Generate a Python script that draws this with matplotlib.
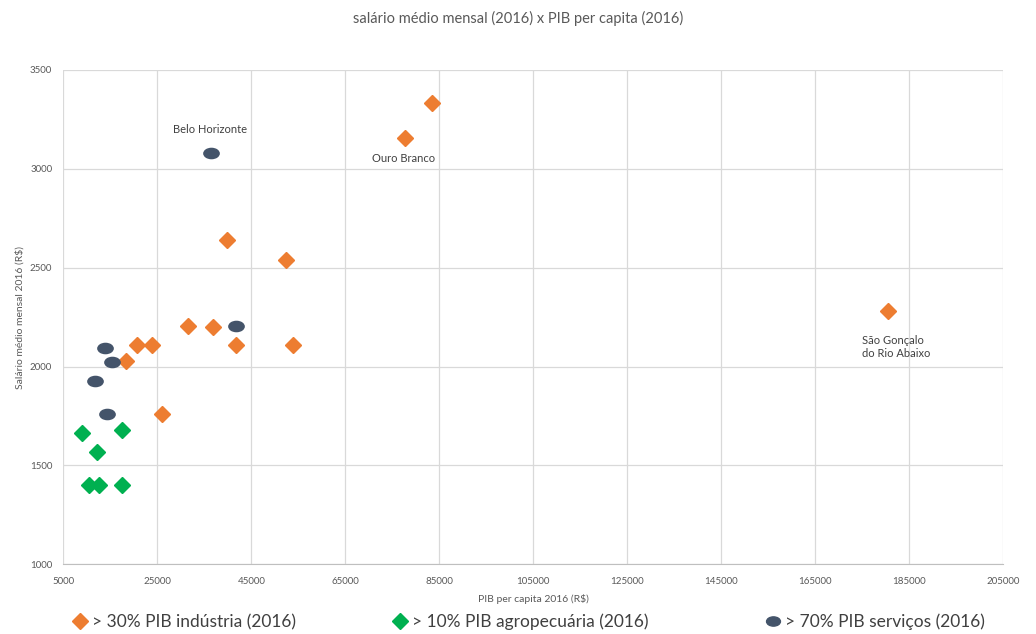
import numpy as np
import matplotlib
matplotlib.use("Agg")
import matplotlib.pyplot as plt
from matplotlib.path import Path
from matplotlib.lines import Line2D
from matplotlib.transforms import Affine2D

plt.rcParams['font.family'] = ['Lato', 'DejaVu Sans']

# dados
ind_pib = [83500, 77700, 39900, 52400, 180500, 31500, 36900, 41700, 53900,
           20600, 23900, 18300, 25900]
ind_sal = [3333, 3158, 2638, 2540, 2282, 2203, 2200, 2109, 2109,
           2110, 2110, 2026, 1760]

agro_pib = [9000, 17400, 12100, 10500, 12600, 17400]
agro_sal = [1666, 1679, 1568, 1400, 1400, 1400]

serv_pib = [36500, 41700, 13900, 15400, 11800, 14300]
serv_sal = [3079, 2206, 2095, 2022, 1926, 1758]

labels = ['> 30% PIB indústria (2016)', '> 10% PIB agropecuária (2016)',
          '> 70% PIB serviços (2016)']
colors = ['#ED7D31', '#00B050', '#44546A']

x_ticks = list(range(5000, 205001, 20000))
y_ticks = [1000, 1500, 2000, 2500, 3000, 3500]

# marcador eliptico
ellipse = Path.unit_circle().transformed(Affine2D().scale(1.5, 1.0))

fig = plt.figure(figsize=(10.36, 6.34), dpi=100)
ax = fig.add_axes([0.0611, 0.110, 0.9074, 0.7797])

ax.plot(ind_pib, ind_sal, linestyle='none', marker='D', ms=8.5,
        color=colors[0], mec=colors[0])
ax.plot(agro_pib, agro_sal, linestyle='none', marker='D', ms=8.5,
        color=colors[1], mec=colors[1])
ax.plot(serv_pib, serv_sal, linestyle='none', marker=ellipse, ms=11,
        color=colors[2], mec=colors[2])

ax.set_xlim(5000, 205000)
ax.set_ylim(1000, 3500)
ax.set_xticks(x_ticks)
ax.set_yticks(y_ticks)
ax.grid(True, color='#D9D9D9', linewidth=0.9)
ax.set_axisbelow(True)
for s in ['top', 'right', 'left']:
    ax.spines[s].set_visible(False)
ax.spines['bottom'].set_color('#BFBFBF')
ax.tick_params(length=0, labelsize=7, labelcolor='#595959')
ax.tick_params(axis='x', pad=9)
ax.tick_params(axis='y', pad=8)

ax.set_xlabel('PIB per capita 2016 (R$)', fontsize=7.5, color='#595959', labelpad=6)
ax.set_ylabel('Salário médio mensal 2016 (R$)', fontsize=7.5, color='#595959', labelpad=4)
fig.text(0.5, 1 - 18 / 634, 'salário médio mensal (2016) x PIB per capita (2016)',
         ha='center', va='center', fontsize=10.5, color='#595959')

# rotulos das cidades
ax.annotate('Belo Horizonte', (serv_pib[0], serv_sal[0]), xytext=(-1, 17),
            textcoords='offset points', ha='center', va='center',
            fontsize=8, color='#404040')
ax.annotate('Ouro Branco', (ind_pib[1], ind_sal[1]), xytext=(-1, -15),
            textcoords='offset points', ha='center', va='center',
            fontsize=8, color='#404040')
ax.annotate('São Gonçalo\ndo Rio Abaixo', (ind_pib[4], ind_sal[4]), xytext=(-19, -26),
            textcoords='offset points', ha='left', va='center',
            fontsize=8, color='#404040', linespacing=1.3)

# legenda em tres partes
handles = [
    Line2D([], [], linestyle='none', marker='D', ms=8.5, color=colors[0]),
    Line2D([], [], linestyle='none', marker='D', ms=8.5, color=colors[1]),
    Line2D([], [], linestyle='none', marker=ellipse, ms=10, color=colors[2]),
]
leg_x = [73, 393, 766]
for h, lab, lx in zip(handles, labels, leg_x):
    fig.legend(handles=[h], labels=[lab], loc='center left',
               bbox_to_anchor=(lx / 1036, 1 - 622 / 634), frameon=False,
               fontsize=12.5, handlelength=0.8, handletextpad=0.3,
               borderaxespad=0, borderpad=0, labelcolor='#404040')

fig.savefig('out.png', dpi=100)
